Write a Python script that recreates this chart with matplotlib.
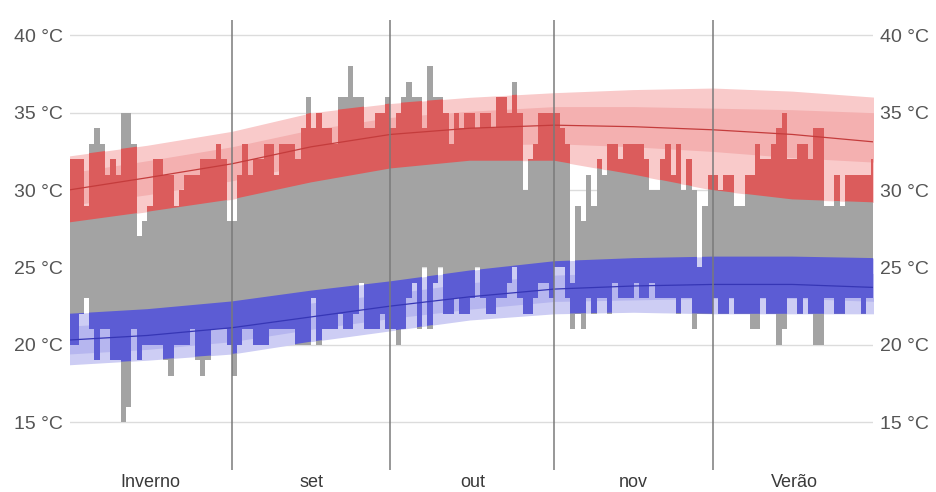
import matplotlib
matplotlib.use('Agg')
import matplotlib.pyplot as plt
import numpy as np

# daily reported highs / lows (°C), one value per day starting 1 Aug
highs = [32, 32, 32, 29, 33, 34, 33, 31, 32, 31,
         35, 35, 33, 27, 28, 29, 32, 32, 31, 31,
         29, 30, 31, 31, 31, 32, 32, 32, 33, 32,
         28, 28, 31, 33, 31, 32, 32, 33, 33, 31,
         33, 33, 33, 32, 34, 36, 34, 35, 34, 34,
         33, 36, 36, 38, 36, 36, 34, 34, 35, 35,
         36, 34, 35, 36, 37, 36, 36, 34, 38, 36,
         36, 35, 33, 35, 34, 35, 35, 34, 35, 35,
         34, 36, 36, 35, 37, 35, 30, 32, 33, 35,
         35, 35, 35, 34, 33, 24, 29, 28, 31, 29,
         32, 31, 33, 33, 32, 33, 33, 33, 33, 32,
         30, 30, 32, 33, 31, 33, 30, 32, 30, 25,
         29, 31, 31, 30, 31, 31, 29, 29, 31, 31,
         33, 32, 32, 33, 34, 35, 32, 32, 33, 33,
         32, 34, 34, 29, 29, 31, 29, 31, 31, 31,
         31, 31, 32]
lows = [20, 20, 22, 23, 21, 19, 21, 21, 19, 19,
        15, 16, 21, 19, 20, 20, 20, 20, 19, 18,
        20, 20, 20, 21, 19, 18, 19, 21, 21, 21,
        20, 18, 20, 21, 21, 20, 20, 20, 21, 21,
        21, 21, 21, 20, 20, 20, 23, 20, 21, 21,
        21, 22, 21, 21, 22, 24, 21, 21, 21, 22,
        21, 21, 20, 21, 23, 24, 21, 25, 21, 24,
        25, 22, 22, 23, 22, 22, 23, 25, 23, 22,
        22, 23, 23, 24, 25, 23, 22, 22, 23, 24,
        24, 23, 25, 25, 23, 21, 22, 21, 23, 22,
        23, 23, 22, 24, 23, 23, 23, 24, 23, 23,
        24, 23, 23, 23, 23, 22, 23, 23, 21, 22,
        22, 22, 23, 22, 22, 23, 22, 22, 22, 21,
        21, 23, 22, 22, 20, 21, 23, 23, 22, 23,
        22, 20, 20, 23, 23, 22, 22, 23, 23, 23,
        22, 23, 23]

# climatology bands (percentiles) at a few days
band_days = [0, 15, 31, 46, 61, 76, 92, 107, 122, 137, 153]
hi_p10 = [27.9, 28.6, 29.4, 30.5, 31.4, 31.9, 31.9, 31.0, 30.0, 29.4, 29.2]
hi_p25 = [29.0, 29.7, 30.6, 31.7, 32.5, 32.9, 33.0, 32.8, 32.5, 32.1, 31.8]
hi_avg = [30.0, 30.8, 31.7, 32.8, 33.6, 34.0, 34.2, 34.1, 33.9, 33.6, 33.1]
hi_p75 = [31.1, 31.9, 32.8, 33.9, 34.7, 35.1, 35.4, 35.4, 35.3, 35.2, 35.0]
hi_p90 = [32.2, 32.9, 33.8, 35.0, 35.6, 36.0, 36.3, 36.5, 36.6, 36.4, 36.0]
lo_p10 = [18.7, 19.0, 19.4, 20.2, 20.9, 21.6, 22.0, 22.1, 22.0, 22.0, 22.0]
lo_p25 = [19.4, 19.7, 20.2, 21.0, 21.7, 22.3, 22.8, 22.9, 23.0, 23.0, 22.8]
lo_avg = [20.3, 20.6, 21.1, 21.8, 22.5, 23.1, 23.6, 23.8, 23.9, 23.9, 23.7]
lo_p75 = [21.2, 21.5, 22.0, 22.7, 23.3, 24.0, 24.5, 24.7, 24.8, 24.8, 24.6]
lo_p90 = [22.0, 22.3, 22.8, 23.5, 24.1, 24.8, 25.4, 25.6, 25.7, 25.7, 25.6]

month_starts = [31, 61, 92, 122]
month_labels = ['Inverno', 'set', 'out', 'nov', 'Verão']
month_mids = [15.5, 46, 76.5, 107, 137.5]
yticks = [15, 20, 25, 30, 35, 40]

plt.rcParams['font.family'] = ['Liberation Sans', 'DejaVu Sans']

fig = plt.figure(figsize=(9.36, 4.92), dpi=100)
ax = fig.add_axes([70 / 936, 22 / 492, 803 / 936, 450 / 492])

day = np.arange(len(highs))
hi = np.array(highs)
lo = np.array(lows)

# bands (opaque pale fills)
red_out = ax.fill_between(band_days, hi_p10, hi_p90, color='#f9caca', lw=0, zorder=1)
ax.fill_between(band_days, hi_p25, hi_p75, color='#f4b0b0', lw=0, zorder=1.1)
blue_out = ax.fill_between(band_days, lo_p10, lo_p90, color='#cdcdf4', lw=0, zorder=1)
ax.fill_between(band_days, lo_p25, lo_p75, color='#b6b6ef', lw=0, zorder=1.1)

# daily bars in gray, then recoloured where they fall inside the bands
ax.bar(day, hi - lo, bottom=lo, width=1, align='edge', color='#a3a3a3', lw=0, zorder=2)
for band, col in ((red_out, '#db5c5c'), (blue_out, '#5c5cd4')):
    clip = band.get_paths()[0]
    bb = ax.bar(day, hi - lo, bottom=lo, width=1, align='edge', color=col, lw=0, zorder=3)
    for p in bb:
        p.set_clip_path(clip, ax.transData)

ax.plot(band_days, hi_avg, color='#c43c3c', lw=0.9, zorder=4)
ax.plot(band_days, lo_avg, color='#3636b5', lw=0.9, zorder=4)

for m in month_starts:
    ax.axvline(m, color='#7a7a7a', lw=1.1, zorder=6)
for m, lab in zip(month_mids, month_labels):
    ax.text(m, -0.027, lab, transform=ax.get_xaxis_transform(), ha='center',
            va='center', fontsize=13, color='#3a3a3a')

ax.set_xlim(0.38, 152.3)
ax.set_ylim(11.9, 41.0)
ax.set_yticks(yticks)
ax.set_yticklabels([f'{v} °C' for v in yticks])
ax.set_xticks([])
ax.tick_params(axis='y', length=0, pad=5, labelsize=14, labelcolor='#555555',
               labelright=True)
ax.grid(axis='y', color='#dcdcdc', lw=1.0, zorder=0)
ax.set_axisbelow(True)
for s in ax.spines.values():
    s.set_visible(False)

fig.savefig('out.png', dpi=100)
